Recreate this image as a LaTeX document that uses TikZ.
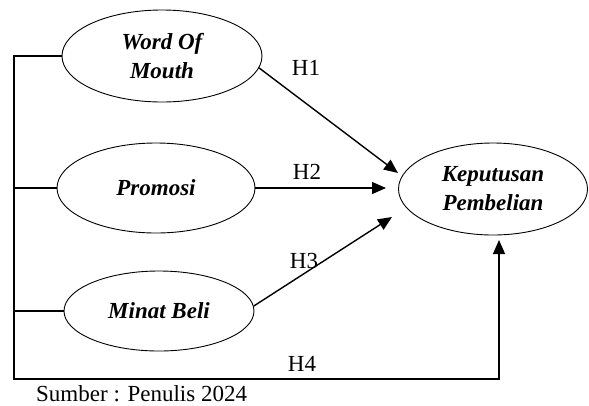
\documentclass[tikz,border=0pt]{standalone}
\usepackage{fontspec}
\setmainfont{Liberation Serif}
\usetikzlibrary{shapes.geometric,arrows.meta}
\begin{document}
\begin{tikzpicture}[x=1pt,y=-1pt,
  var/.style={ellipse,draw,line width=0.9pt,inner sep=0pt,align=center,font=\fontsize{23}{29}\selectfont\bfseries\itshape},
  arr/.style={line width=1.4pt,-{Triangle[length=14pt,width=12pt]}},
  lbl/.style={font=\fontsize{23}{27}\selectfont,inner sep=0pt},
  conn/.style={line width=1.2pt}]
\useasboundingbox (0,0) rectangle (589,405);
\node[var,minimum width=200pt,minimum height=92pt] (wom) at (162,56) {Word Of\\Mouth};
\node[var,minimum width=198pt,minimum height=90pt] (pr) at (156,188) {Promosi};
\node[var,minimum width=190pt,minimum height=80pt] (mb) at (159,311) {Minat Beli};
\node[var,minimum width=189pt,minimum height=92pt] (kp) at (493,189) {Keputusan\\Pembelian};
\coordinate (t1) at (398,173);
\coordinate (t2) at (386,188);
\coordinate (t3) at (392,217);
\coordinate (lt) at (14,56);
\coordinate (lb) at (14,379);
\coordinate (rb) at (499,379);
\coordinate (t4) at (499,240);
\draw[arr] (wom.-7) -- (t1);
\draw[arr] (pr.east) -- (t2);
\draw[arr] (mb.3) -- (t3);
\draw[arr] (wom.west) -- (lt) -- (lb) -- (rb) -- (t4);
\draw[conn] (pr.west) -- (pr.west -| lt);
\draw[conn] (mb.west) -- (mb.west -| lt);
\node[lbl] (h1) at (306,68) {H1};
\node[lbl] (h2) at (307,172) {H2};
\node[lbl] (h3) at (304,261) {H3};
\node[lbl] (h4) at (302,364) {H4};
\node[lbl,anchor=base west] (src) at (36,401) {Sumber : Penulis 2024};
\end{tikzpicture}
\end{document}
